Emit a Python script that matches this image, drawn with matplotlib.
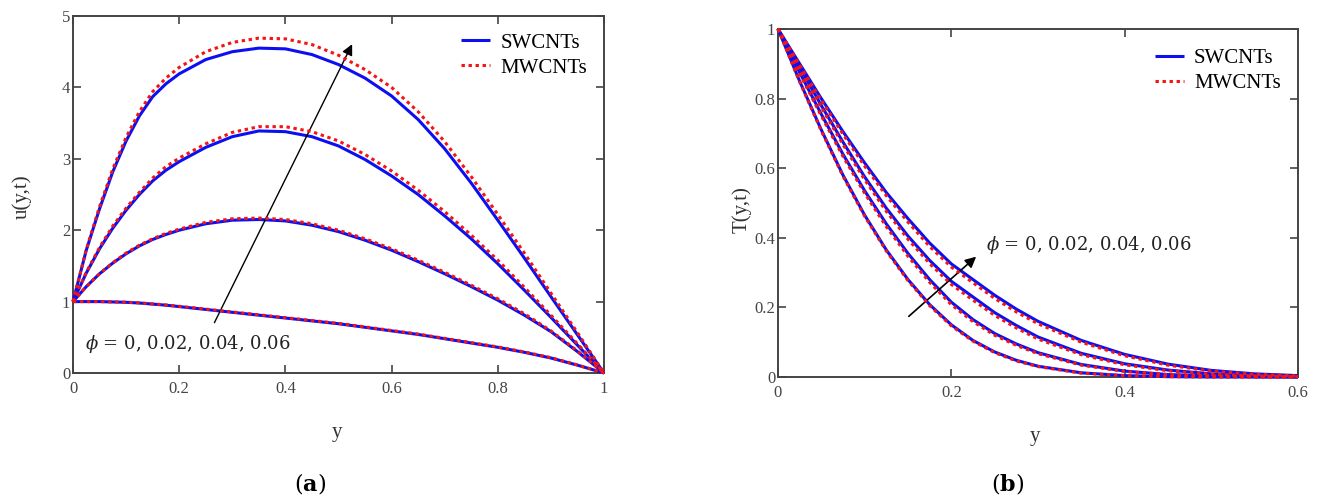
import matplotlib
matplotlib.use("Agg")
import matplotlib.pyplot as plt

plt.rcParams['mathtext.fontset'] = 'custom'
plt.rcParams['mathtext.rm'] = 'DejaVu Serif'
plt.rcParams['mathtext.it'] = 'DejaVu Serif:italic'
plt.rcParams['mathtext.bf'] = 'DejaVu Serif:bold'

# ---------------- data: panel (a) velocity u(y,t) ----------------
y_a = [0.0, 0.025, 0.05, 0.075, 0.1, 0.125, 0.15, 0.175, 0.2, 0.25, 0.3, 0.35, 0.4,
       0.45, 0.5, 0.55, 0.6, 0.65, 0.7, 0.75, 0.8, 0.85, 0.9, 0.95, 1.0]
u_sw_1 = [1.0, 1.0, 1.0, 0.995, 0.99, 0.98, 0.965, 0.95, 0.93, 0.89, 0.85, 0.81, 0.77,
          0.73, 0.69, 0.64, 0.59, 0.54, 0.48, 0.42, 0.36, 0.29, 0.21, 0.11, 0.0]
u_mw_1 = [1.0, 1.0, 1.0, 0.996, 0.992, 0.983, 0.968, 0.953, 0.934, 0.895, 0.855, 0.815, 0.775,
          0.735, 0.695, 0.645, 0.595, 0.545, 0.485, 0.425, 0.365, 0.295, 0.215, 0.113, 0.0]
u_sw_2 = [1.0, 1.21, 1.39, 1.54, 1.67, 1.78, 1.87, 1.94, 2.0, 2.09, 2.14, 2.15, 2.13,
          2.07, 1.98, 1.86, 1.72, 1.56, 1.39, 1.21, 1.02, 0.81, 0.58, 0.30, 0.0]
u_mw_2 = [1.0, 1.21, 1.39, 1.545, 1.68, 1.79, 1.88, 1.955, 2.015, 2.11, 2.16, 2.17, 2.15,
          2.09, 2.0, 1.88, 1.74, 1.58, 1.41, 1.23, 1.04, 0.83, 0.59, 0.31, 0.0]
u_sw_3 = [1.0, 1.4, 1.74, 2.03, 2.28, 2.5, 2.69, 2.84, 2.96, 3.16, 3.31, 3.39, 3.38,
          3.31, 3.18, 2.99, 2.76, 2.5, 2.2, 1.88, 1.53, 1.16, 0.78, 0.39, 0.0]
u_mw_3 = [1.0, 1.41, 1.76, 2.06, 2.31, 2.53, 2.73, 2.89, 3.01, 3.21, 3.37, 3.45, 3.45,
          3.38, 3.25, 3.06, 2.83, 2.56, 2.26, 1.93, 1.58, 1.2, 0.81, 0.41, 0.0]
u_sw_4 = [1.0, 1.72, 2.3, 2.82, 3.25, 3.6, 3.87, 4.05, 4.19, 4.39, 4.5, 4.55, 4.54,
          4.46, 4.32, 4.13, 3.88, 3.55, 3.14, 2.66, 2.14, 1.61, 1.07, 0.535, 0.0]
u_mw_4 = [1.0, 1.73, 2.33, 2.86, 3.30, 3.66, 3.94, 4.13, 4.28, 4.50, 4.63, 4.69, 4.68,
          4.60, 4.45, 4.25, 4.00, 3.66, 3.24, 2.75, 2.22, 1.68, 1.12, 0.565, 0.0]

# ---------------- data: panel (b) temperature T(y,t) ----------------
y_b = [0.0, 0.025, 0.05, 0.075, 0.1, 0.125, 0.15, 0.175, 0.2, 0.225, 0.25,
       0.275, 0.3, 0.35, 0.4, 0.45, 0.5, 0.55, 0.6]
T_sw_1 = [1.0, 0.85, 0.71, 0.58, 0.465, 0.365, 0.28, 0.208, 0.15, 0.105, 0.072,
          0.048, 0.031, 0.012, 0.004, 0.001, 0.0, 0.0, 0.0]
T_mw_1 = [1.0, 0.848, 0.707, 0.577, 0.462, 0.362, 0.277, 0.205, 0.147, 0.103, 0.07,
          0.046, 0.03, 0.011, 0.004, 0.001, 0.0, 0.0, 0.0]
T_sw_2 = [1.0, 0.875, 0.755, 0.64, 0.535, 0.44, 0.355, 0.28, 0.215, 0.165, 0.125,
          0.095, 0.07, 0.036, 0.017, 0.007, 0.003, 0.001, 0.0]
T_mw_2 = [1.0, 0.872, 0.75, 0.634, 0.528, 0.432, 0.347, 0.272, 0.208, 0.159, 0.12,
          0.091, 0.067, 0.034, 0.016, 0.007, 0.003, 0.001, 0.0]
T_sw_3 = [1.0, 0.89, 0.78, 0.675, 0.575, 0.485, 0.405, 0.335, 0.275, 0.23, 0.185,
          0.148, 0.115, 0.068, 0.038, 0.02, 0.009, 0.004, 0.001]
T_mw_3 = [1.0, 0.887, 0.775, 0.668, 0.567, 0.476, 0.396, 0.326, 0.266, 0.221, 0.177,
          0.141, 0.109, 0.064, 0.035, 0.018, 0.008, 0.003, 0.001]
T_sw_4 = [1.0, 0.90, 0.80, 0.705, 0.615, 0.53, 0.455, 0.385, 0.325, 0.28, 0.235,
          0.195, 0.16, 0.105, 0.065, 0.037, 0.019, 0.009, 0.004]
T_mw_4 = [1.0, 0.897, 0.795, 0.698, 0.606, 0.521, 0.445, 0.375, 0.316, 0.271, 0.226,
          0.187, 0.153, 0.1, 0.061, 0.034, 0.017, 0.008, 0.003]

u_sw = [u_sw_1, u_sw_2, u_sw_3, u_sw_4]
u_mw = [u_mw_1, u_mw_2, u_mw_3, u_mw_4]
T_sw = [T_sw_1, T_sw_2, T_sw_3, T_sw_4]
T_mw = [T_mw_1, T_mw_2, T_mw_3, T_mw_4]

series_names = ['SWCNTs', 'MWCNTs']
phi_label = r'$\phi$ = 0, 0.02, 0.04, 0.06'
xt_a = [0, 0.2, 0.4, 0.6, 0.8, 1.0]
xtl_a = ['0', '0.2', '0.4', '0.6', '0.8', '1']
yt_a = [0, 1, 2, 3, 4, 5]
ytl_a = ['0', '1', '2', '3', '4', '5']
xt_b = [0, 0.2, 0.4, 0.6]
xtl_b = ['0', '0.2', '0.4', '0.6']
yt_b = [0, 0.2, 0.4, 0.6, 0.8, 1.0]
ytl_b = ['0', '0.2', '0.4', '0.6', '0.8', '1']

# ---------------- figure ----------------
W, H = 1321, 499
fig = plt.figure(figsize=(W / 100, H / 100), dpi=100)

BLUE = '#0c10f0'
RED = '#f51414'
SPINE = '#444444'
TXT = '#333333'
SERIF = 'Liberation Serif'


def px_axes(x0, y0, x1, y1):
    return fig.add_axes([x0 / W, 1 - y1 / H, (x1 - x0) / W, (y1 - y0) / H])


def style(ax, xt, xtl, yt, ytl):
    ax.set_xticks(xt)
    ax.set_xticklabels(xtl)
    ax.set_yticks(yt)
    ax.set_yticklabels(ytl)
    ax.tick_params(direction='in', top=True, right=True, length=6, width=1.2,
                   color=SPINE, labelsize=12, labelcolor='#444444')
    ax.tick_params(axis='x', pad=6)
    ax.tick_params(axis='y', pad=2)
    for lab in ax.get_xticklabels() + ax.get_yticklabels():
        lab.set_fontfamily(SERIF)
    for s in ax.spines.values():
        s.set_color(SPINE)
        s.set_linewidth(1.4)


def draw(ax, x, sw_list, mw_list):
    hs = hm = None
    for s in sw_list:
        hs, = ax.plot(x, s, color=BLUE, lw=2.2, solid_capstyle='butt',
                      solid_joinstyle='round', clip_on=False, zorder=3)
    for m in mw_list:
        hm, = ax.plot(x, m, color=RED, lw=2.2, linestyle=(0, (1.1, 1.2)),
                      clip_on=False, zorder=4)
    return hs, hm


# panel (a)
axa = px_axes(73, 16, 604, 373)
hs, hm = draw(axa, y_a, u_sw, u_mw)
axa.set_xlim(0, 1)
axa.set_ylim(0, 5)
style(axa, xt_a, xtl_a, yt_a, ytl_a)
axa.legend([hs, hm], series_names, loc='upper right', bbox_to_anchor=(0.968, 0.952),
           frameon=False, handlelength=1.4, handletextpad=0.5, labelspacing=0.25,
           borderpad=0, borderaxespad=0, prop={'family': SERIF, 'size': 15})
axa.annotate('', xy=(0.528, 4.64), xytext=(0.264, 0.67),
             arrowprops=dict(arrowstyle='-|>', color='black', lw=1.0, mutation_scale=16))
axa.text(0.0226, 0.40, phi_label, fontsize=13, family='DejaVu Serif',
         ha='left', va='center', color='#222222')

# panel (b)
axb = px_axes(778, 29, 1298, 377)
hs2, hm2 = draw(axb, y_b, T_sw, T_mw)
axb.set_xlim(0, 0.6)
axb.set_ylim(0, 1)
style(axb, xt_b, xtl_b, yt_b, ytl_b)
axb.legend([hs2, hm2], series_names, loc='upper right', bbox_to_anchor=(0.967, 0.943),
           frameon=False, handlelength=1.4, handletextpad=0.5, labelspacing=0.25,
           borderpad=0, borderaxespad=0, prop={'family': SERIF, 'size': 15})
axb.annotate('', xy=(0.231, 0.351), xytext=(0.1485, 0.169),
             arrowprops=dict(arrowstyle='-|>', color='black', lw=1.2, mutation_scale=16))
axb.text(0.24, 0.379, phi_label, fontsize=13, family='DejaVu Serif',
         ha='left', va='center', color='#222222')

# axis labels and panel captions
fig.text(22 / W, 1 - 197 / H, 'u(y,t)', rotation=90, ha='center', va='center',
         fontsize=15, family=SERIF, color=TXT)
fig.text(337 / W, 1 - 433 / H, 'y', ha='center', va='center', fontsize=15,
         family=SERIF, color=TXT)
fig.text(742 / W, 1 - 210 / H, 'T(y,t)', rotation=90, ha='center', va='center',
         fontsize=15, family=SERIF, color=TXT)
fig.text(1035 / W, 1 - 437 / H, 'y', ha='center', va='center', fontsize=15,
         family=SERIF, color=TXT)
fig.text(310 / W, 1 - 483 / H, r'($\mathbf{a}$)', ha='center', va='center',
         fontsize=16, family='DejaVu Serif', color='black')
fig.text(1008 / W, 1 - 483 / H, r'($\mathbf{b}$)', ha='center', va='center',
         fontsize=16, family='DejaVu Serif', color='black')

fig.savefig('out.png', dpi=100, facecolor='white')
